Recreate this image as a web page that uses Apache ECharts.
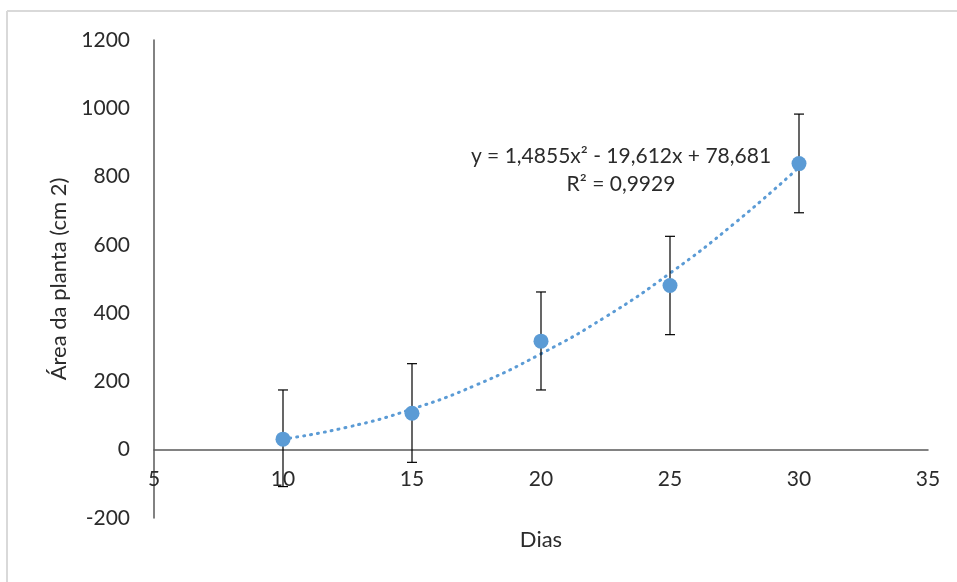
<!DOCTYPE html>
<html>
<head>
<meta charset="utf-8">
<script src="https://cdn.jsdelivr.net/npm/echarts@6/dist/echarts.min.js"></script>
<style>
  html, body { margin: 0; padding: 0; background: #fff; }
  #chart { width: 957px; height: 582px; }
</style>
</head>
<body>
<div id="chart"></div>
<script>
// dias e área medida (cm2)
var dias = [10, 15, 20, 25, 30];
var area = [31, 107, 318, 481, 838];
var erroBaixo = [-108, -37, 175, 337, 694];
var erroAlto = [175, 252, 462, 625, 983];

// linha de tendência polinomial
var tendX = [10, 12.5, 15, 17.5, 20, 22.5, 25, 27.5, 30];
var tendY = [31, 66, 119, 190, 281, 389, 517, 663, 827];

var fonte = 'Lato';
var azul = '#5B9BD5';
var texto = '#2b2b2b';

var pontos = dias.map(function (d, i) { return [d, area[i]]; });
var erros = dias.map(function (d, i) { return [d, erroBaixo[i], erroAlto[i]]; });
var tendencia = tendX.map(function (d, i) { return [d, tendY[i]]; });

var myChart = echarts.init(document.getElementById('chart'));

var option = {
  backgroundColor: '#fff',
  animation: false,
  grid: {
    left: 154,
    right: 29,
    top: 40,
    bottom: 64,
    containLabel: false,
    outerBoundsMode: 'none'
  },
  graphic: [
    {
      type: 'line',
      shape: { x1: 7, y1: 11, x2: 957, y2: 11 },
      style: { stroke: '#d9d9d9', lineWidth: 2 }
    },
    {
      type: 'line',
      shape: { x1: 7, y1: 11, x2: 7, y2: 582 },
      style: { stroke: '#d9d9d9', lineWidth: 2 }
    },
    {
      type: 'text',
      style: {
        x: 621,
        y: 156,
        text: 'y = 1,4855x² - 19,612x + 78,681',
        align: 'center',
        verticalAlign: 'middle',
        font: '21px ' + fonte,
        fill: texto
      }
    },
    {
      type: 'text',
      style: {
        x: 621,
        y: 184,
        text: 'R² = 0,9929',
        align: 'center',
        verticalAlign: 'middle',
        font: '21px ' + fonte,
        fill: texto
      }
    }
  ],
  xAxis: {
    type: 'value',
    min: 5,
    max: 35,
    interval: 5,
    name: 'Dias',
    nameLocation: 'middle',
    nameGap: 79,
    nameTextStyle: { fontFamily: fonte, fontSize: 22, color: texto },
    // eixo desenhado na altura do zero
    offset: -68,
    axisLine: { onZero: false, lineStyle: { color: '#595959', width: 1.5 } },
    axisTick: { show: false },
    splitLine: { show: false },
    axisLabel: { fontFamily: fonte, fontSize: 21, color: texto, margin: 19 }
  },
  yAxis: {
    type: 'value',
    min: -200,
    max: 1200,
    interval: 200,
    name: 'Área da planta (cm 2)',
    nameLocation: 'middle',
    nameGap: 84,
    nameTextStyle: { fontFamily: fonte, fontSize: 22, color: texto },
    axisLine: { show: true, onZero: false, lineStyle: { color: '#595959', width: 1.5 } },
    axisTick: { show: false },
    splitLine: { show: false },
    axisLabel: {
      fontFamily: fonte,
      fontSize: 21,
      color: texto,
      margin: 24,
      formatter: function (v) { return String(v); }
    }
  },
  series: [
    {
      name: 'tendência',
      type: 'line',
      data: tendencia,
      smooth: true,
      showSymbol: false,
      lineStyle: { color: azul, width: 3, type: [1, 6], cap: 'round' },
      z: 2
    },
    {
      name: 'erro',
      type: 'custom',
      data: erros,
      renderItem: function (params, api) {
        var x = api.value(0);
        var baixo = api.coord([x, api.value(1)]);
        var alto = api.coord([x, api.value(2)]);
        var w = 5;
        var st = { stroke: '#000', lineWidth: 1.2 };
        return {
          type: 'group',
          children: [
            { type: 'line', shape: { x1: baixo[0], y1: baixo[1], x2: alto[0], y2: alto[1] }, style: st },
            { type: 'line', shape: { x1: alto[0] - w, y1: alto[1], x2: alto[0] + w, y2: alto[1] }, style: st },
            { type: 'line', shape: { x1: baixo[0] - w, y1: baixo[1], x2: baixo[0] + w, y2: baixo[1] }, style: st }
          ]
        };
      },
      z: 3
    },
    {
      name: 'Área',
      type: 'scatter',
      data: pontos,
      symbol: 'circle',
      symbolSize: 15,
      itemStyle: { color: azul, opacity: 1 },
      z: 4
    }
  ]
};

myChart.setOption(option);
</script>
</body>
</html>
